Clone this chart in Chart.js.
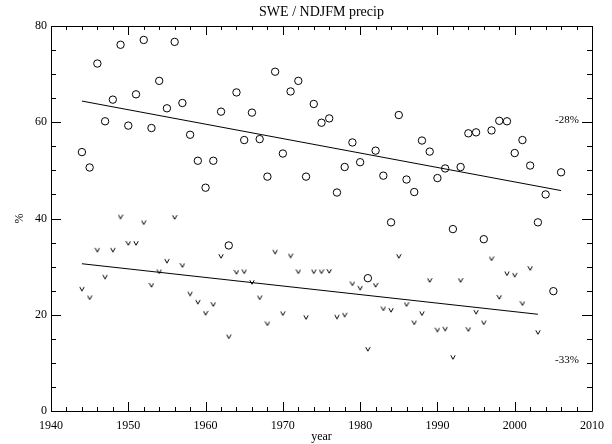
<!DOCTYPE html>
<html>
<head>
<meta charset="utf-8">
<script src="https://cdn.jsdelivr.net/npm/chart.js@4/dist/chart.umd.min.js"></script>
<style>
  html, body { margin: 0; padding: 0; background: #fff; }
</style>
</head>
<body>
<canvas id="chart" width="612" height="444"></canvas>
<script>
// SWE, % (circles)
const sweYears = [1944, 1945, 1946, 1947, 1948, 1949, 1950, 1951, 1952, 1953,
  1954, 1955, 1956, 1957, 1958, 1959, 1960, 1961, 1962, 1963,
  1964, 1965, 1966, 1967, 1968, 1969, 1970, 1971, 1972, 1973,
  1974, 1975, 1976, 1977, 1978, 1979, 1980, 1981, 1982, 1983,
  1984, 1985, 1986, 1987, 1988, 1989, 1990, 1991, 1992, 1993,
  1994, 1995, 1996, 1997, 1998, 1999, 2000, 2001, 2002, 2003,
  2004, 2005, 2006];
const sweValues = [53.8, 50.6, 72.2, 60.2, 64.7, 76.1, 59.3, 65.8, 77.1, 58.8,
  68.6, 62.9, 76.7, 64.0, 57.4, 52.0, 46.4, 52.0, 62.2, 34.4,
  66.2, 56.3, 62.0, 56.5, 48.7, 70.5, 53.5, 66.4, 68.6, 48.7,
  63.8, 59.9, 60.8, 45.4, 50.7, 55.8, 51.7, 27.6, 54.1, 48.9,
  39.2, 61.5, 48.1, 45.5, 56.2, 53.9, 48.4, 50.4, 37.8, 50.7,
  57.7, 57.9, 35.7, 58.3, 60.3, 60.2, 53.6, 56.3, 51.0, 39.2,
  45.0, 24.9, 49.6];

// NDJFM precip, % ("v" marks)
const precipYears = [1944, 1945, 1946, 1947, 1948, 1949, 1950, 1951, 1952, 1953,
  1954, 1955, 1956, 1957, 1958, 1959, 1960, 1961, 1962, 1963,
  1964, 1965, 1966, 1967, 1968, 1969, 1970, 1971, 1972, 1973,
  1974, 1975, 1976, 1977, 1978, 1979, 1980, 1981, 1982, 1983,
  1984, 1985, 1986, 1987, 1988, 1989, 1990, 1991, 1992, 1993,
  1994, 1995, 1996, 1997, 1998, 1999, 2000, 2001, 2002, 2003];
const precipValues = [25.4, 23.6, 33.5, 27.9, 33.5, 40.4, 34.9, 34.9, 39.2, 26.2,
  29.0, 31.2, 40.3, 30.3, 24.4, 22.7, 20.4, 22.2, 32.2, 15.5,
  28.9, 29.0, 26.8, 23.6, 18.2, 33.1, 20.3, 32.3, 29.0, 19.5,
  29.0, 29.0, 29.1, 19.6, 20.0, 26.5, 25.6, 12.9, 26.2, 21.3,
  21.0, 32.2, 22.2, 18.4, 20.3, 27.2, 16.9, 17.1, 11.2, 27.2,
  17.0, 20.6, 18.4, 31.7, 23.7, 28.6, 28.3, 22.4, 29.7, 16.4];

// linear trends (end points)
const sweTrendYears = [1944, 2006];
const sweTrendValues = [64.4, 45.8];
const precipTrendYears = [1944, 2003];
const precipTrendValues = [30.6, 20.1];

const trendLabels = ['-28%', '-33%'];
const trendLabelValues = [60.5, 10.5];

const xTicks = [1940, 1950, 1960, 1970, 1980, 1990, 2000, 2010];
const yTicks = [0, 20, 40, 60, 80];
const xMinorStep = 2;
const yMinorStep = 5;

const SERIF = '"Liberation Serif", "DejaVu Serif", serif';

function pairs(xs, ys) {
  return xs.map((x, i) => ({ x: x, y: ys[i] }));
}

// the "v" mark, small, like a text glyph
const vMark = document.createElement('canvas');
vMark.width = 6;
vMark.height = 6;
(function () {
  const c = vMark.getContext('2d');
  c.strokeStyle = '#000';
  c.lineWidth = 1;
  c.beginPath();
  c.moveTo(0.8, 1.2);
  c.lineTo(3, 5.2);
  c.lineTo(5.2, 1.2);
  c.stroke();
})();

const frame = {
  id: 'frame',
  afterDraw(chart) {
    const ctx = chart.ctx;
    const a = chart.chartArea;
    const xs = chart.scales.x;
    const ys = chart.scales.y;
    ctx.save();
    ctx.strokeStyle = '#000';
    ctx.lineWidth = 1;
    ctx.beginPath();
    ctx.rect(Math.round(a.left) + 0.5, Math.round(a.top) + 0.5,
      Math.round(a.right - a.left), Math.round(a.bottom - a.top));
    ctx.stroke();

    // inward ticks on all four sides
    ctx.beginPath();
    for (let v = xs.min; v <= xs.max; v += xMinorStep) {
      const px = Math.round(xs.getPixelForValue(v)) + 0.5;
      const len = (v % 10 === 0) ? 9 : 4;
      ctx.moveTo(px, a.bottom); ctx.lineTo(px, a.bottom - len);
      ctx.moveTo(px, a.top); ctx.lineTo(px, a.top + len);
    }
    for (let v = ys.min; v <= ys.max; v += yMinorStep) {
      const py = Math.round(ys.getPixelForValue(v)) + 0.5;
      const len = (v % 20 === 0) ? 10 : 5;
      ctx.moveTo(a.left, py); ctx.lineTo(a.left + len, py);
      ctx.moveTo(a.right, py); ctx.lineTo(a.right - len, py);
    }
    ctx.stroke();

    ctx.fillStyle = '#000';
    ctx.font = '14px ' + SERIF;
    ctx.textAlign = 'center';
    ctx.textBaseline = 'middle';
    ctx.fillText('SWE / NDJFM precip', (a.left + a.right) / 2, 12);

    ctx.font = '12px ' + SERIF;
    ctx.fillText('year', (a.left + a.right) / 2, 437);

    ctx.save();
    ctx.translate(20, (a.top + a.bottom) / 2);
    ctx.rotate(-Math.PI / 2);
    ctx.fillText('%', 0, 0);
    ctx.restore();

    ctx.font = '11px ' + SERIF;
    ctx.textAlign = 'left';
    trendLabels.forEach((t, i) => {
      ctx.fillText(t, 555, ys.getPixelForValue(trendLabelValues[i]));
    });
    ctx.restore();
  }
};

new Chart(document.getElementById('chart'), {
  type: 'scatter',
  data: {
    datasets: [
      {
        label: 'SWE',
        data: pairs(sweYears, sweValues),
        pointStyle: 'circle',
        pointRadius: 3.7,
        borderColor: '#000',
        backgroundColor: 'rgba(0,0,0,0)',
        borderWidth: 1
      },
      {
        label: 'NDJFM precip',
        data: pairs(precipYears, precipValues),
        pointStyle: vMark,
        pointRadius: 3
      },
      {
        type: 'line',
        label: 'SWE trend',
        data: pairs(sweTrendYears, sweTrendValues),
        borderColor: '#000',
        borderWidth: 1,
        pointRadius: 0,
        fill: false
      },
      {
        type: 'line',
        label: 'precip trend',
        data: pairs(precipTrendYears, precipTrendValues),
        borderColor: '#000',
        borderWidth: 1,
        pointRadius: 0,
        fill: false
      }
    ]
  },
  options: {
    responsive: false,
    animation: false,
    devicePixelRatio: 1,
    layout: { padding: { top: 26, right: 19, left: 0, bottom: 0 } },
    plugins: {
      legend: { display: false },
      title: { display: false },
      tooltip: { enabled: false }
    },
    events: [],
    scales: {
      x: {
        type: 'linear',
        min: 1940,
        max: 2010,
        afterBuildTicks: s => { s.ticks = xTicks.map(v => ({ value: v })); },
        afterFit: s => { s.height = 33; },
        grid: { display: false, drawTicks: false },
        border: { display: false },
        ticks: {
          color: '#000',
          font: { family: SERIF, size: 12 },
          padding: 8,
          maxRotation: 0,
          callback: v => String(v)
        }
      },
      y: {
        type: 'linear',
        min: 0,
        max: 80,
        afterBuildTicks: s => { s.ticks = yTicks.map(v => ({ value: v })); },
        afterFit: s => { s.width = 51; },
        grid: { display: false, drawTicks: false },
        border: { display: false },
        ticks: {
          color: '#000',
          font: { family: SERIF, size: 12 },
          padding: 4,
          callback: v => String(v)
        }
      }
    }
  },
  plugins: [frame]
});
</script>
</body>
</html>
